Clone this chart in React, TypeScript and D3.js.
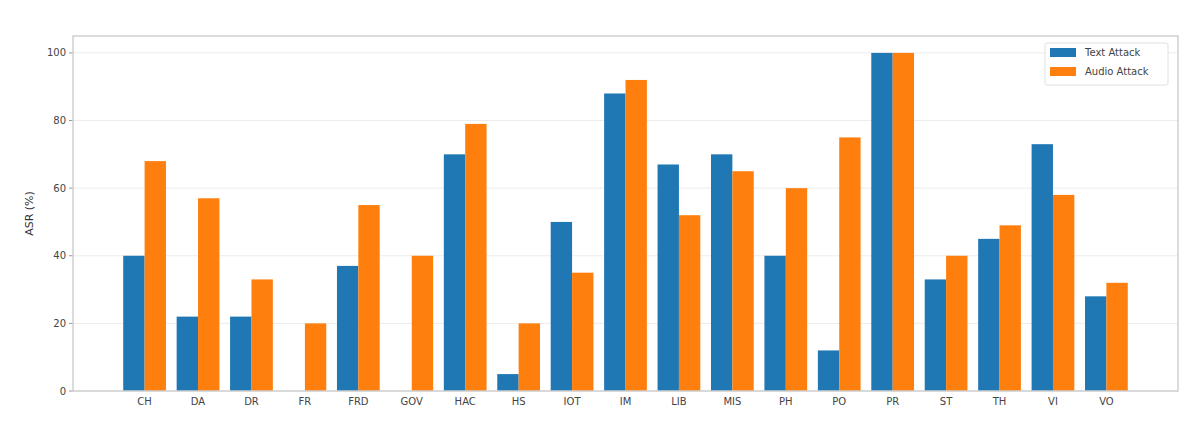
import React from "react";
import * as d3 from "d3";

const categories = ["CH","DA","DR","FR","FRD","GOV","HAC","HS","IOT","IM","LIB","MIS","PH","PO","PR","ST","TH","VI","VO"];
const textAttack = [40,22,22,0,37,0,70,5,50,88,67,70,40,12,100,33,45,73,28];
const audioAttack = [68,57,33,20,55,40,79,20,35,92,52,65,60,75,100,40,49,58,32];
const yTicks = [0,20,40,60,80,100];
const seriesNames = ["Text Attack","Audio Attack"];
const colors = ["#1f77b4","#ff7f0e"];

const W = 1200, H = 447;
const left = 73, right = 1178, top = 36, bottom = 391;

export default function App() {
  const x = d3.scaleLinear().domain([-1.34, categories.length - 1 + 1.34]).range([left, right]);
  const y = d3.scaleLinear().domain([0, 105]).range([bottom, top]);
  const bw = 0.4;
  const font = "DejaVu Sans, sans-serif";
  return (
    <svg width={W} height={H} style={{position:"fixed",left:0,top:0,background:"#fff"}} fontFamily={font}>
      {yTicks.map(t => (
        <g key={t}>
          <line x1={left} x2={right} y1={y(t)} y2={y(t)} stroke="#ececec" strokeWidth={1} />
          <line x1={left-4} x2={left} y1={y(t)} y2={y(t)} stroke="#999" strokeWidth={1} />
          <text x={left-7} y={y(t)} dy="0.35em" textAnchor="end" fontSize={10} fill="#444">{t}</text>
        </g>
      ))}
      {categories.map((c, i) => (
        <g key={c}>
          <rect x={x(i - bw)} width={x(i) - x(i - bw)} y={y(textAttack[i])} height={y(0) - y(textAttack[i])} fill={colors[0]} />
          <rect x={x(i)} width={x(i + bw) - x(i)} y={y(audioAttack[i])} height={y(0) - y(audioAttack[i])} fill={colors[1]} />
          <text x={x(i)} y={bottom + 14} textAnchor="middle" fontSize={10} fill="#444">{c}</text>
        </g>
      ))}
      <rect x={left} y={top} width={right-left} height={bottom-top} fill="none" stroke="#cfcfcf" strokeWidth={1.5} />
      <text transform={`translate(33,${(top+bottom)/2}) rotate(-90)`} textAnchor="middle" fontSize={11} fill="#333">ASR (%)</text>
      <g>
        <rect x={1045} y={43} width={123} height={42} fill="#fff" fillOpacity={0.85} stroke="#e0e0e0" rx={2} />
        {seriesNames.map((s, i) => (
          <g key={s}>
            <rect x={1050} y={48 + i*19} width={26} height={9} fill={colors[i]} />
            <text x={1085} y={52.5 + i*19} dy="0.35em" fontSize={10} fill="#444">{s}</text>
          </g>
        ))}
      </g>
    </svg>
  );
}
